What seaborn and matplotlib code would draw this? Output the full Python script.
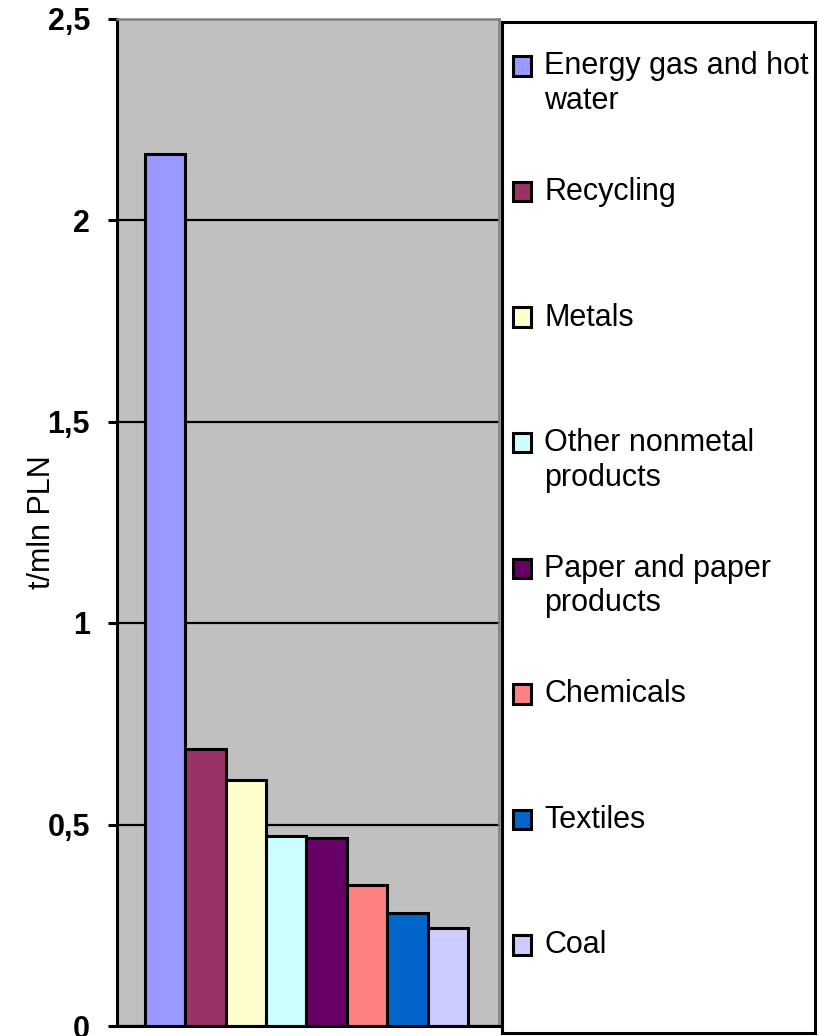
import matplotlib
matplotlib.use("Agg")
import matplotlib.pyplot as plt
import seaborn as sns
import pandas as pd
from matplotlib.patches import Rectangle
from matplotlib.legend_handler import HandlerPatch

# ---- data ----
categories = ["Energy gas and hot\nwater", "Recycling", "Metals", "Other nonmetal\nproducts",
              "Paper and paper\nproducts", "Chemicals", "Textiles", "Coal"]
values = [2.165, 0.688, 0.611, 0.471, 0.466, 0.350, 0.280, 0.243]
colors = ["#9999FF", "#993366", "#FFFFCC", "#CCFFFF", "#660066", "#FF8080", "#0066CC", "#CCCCFF"]
yticks = [0, 0.5, 1, 1.5, 2, 2.5]
ytick_labels = ["0", "0,5", "1", "1,5", "2", "2,5"]
ylabel = "t/mln PLN"

sns.set_style("white")
plt.rcParams['font.family'] = ['Liberation Sans', 'DejaVu Sans']
plt.rcParams['text.color'] = 'black'
plt.rcParams['axes.labelcolor'] = 'black'
plt.rcParams['ytick.color'] = 'black'
plt.rcParams['xtick.color'] = 'black'

fig = plt.figure(figsize=(8.19, 10.36), dpi=100)
ax = fig.add_axes([117 / 819, 10 / 1036, 382 / 819, 1007.5 / 1036])

df = pd.DataFrame({"cat": categories, "val": values})
sns.barplot(data=df, x="cat", y="val", hue="cat", palette=colors, width=1.0, dodge=False,
            saturation=1, edgecolor="black", linewidth=2.2, legend=False, ax=ax)

ax.set_facecolor("#C0C0C0")
ax.set_xlim(-1.193, 8.268)
ax.set_ylim(0, 2.5)
ax.set_yticks(yticks)
ax.set_yticklabels(ytick_labels, fontsize=22, fontweight="bold")
ax.set_xticks([])
ax.set_xlabel("")
ax.set_ylabel(ylabel, fontsize=22, labelpad=-7)
ax.tick_params(axis="y", direction="out", length=6.5, width=2.2, pad=13, left=True)
ax.set_axisbelow(True)
ax.yaxis.grid(True, color="black", linewidth=1.6)
for gl in ax.get_ygridlines()[-1:]:
    gl.set_visible(False)
for side in ["left", "bottom"]:
    ax.spines[side].set_color("black")
    ax.spines[side].set_linewidth(2.2)
for side in ["top", "right"]:
    ax.spines[side].set_color("#808080")
    ax.spines[side].set_linewidth(1.8)

# ---- legend in a framed box ----
lax = fig.add_axes([502 / 819, 3 / 1036, 313 / 819, 1011 / 1036])
lax.set_xticks([])
lax.set_yticks([])
lax.set_facecolor("white")
for s in lax.spines.values():
    s.set_color("black")
    s.set_linewidth(2.2)

fs = 22
labels = [c if "\n" in c else c + "\n" for c in categories]


def top_patch(legend, orig_handle, xdescent, ydescent, width, height, fontsize):
    return Rectangle((-xdescent, -ydescent + 0.6 * fontsize), width, height)


handles = list(ax.patches[:len(categories)])
hmap = {h: HandlerPatch(patch_func=top_patch) for h in handles}
leg = lax.legend(handles, labels, loc="upper left", bbox_to_anchor=(0.006, 0.980), frameon=False,
                 fontsize=fs, handlelength=0.6, handleheight=0.6, handletextpad=0.42,
                 labelspacing=1.995, borderaxespad=0, borderpad=0.3, handler_map=hmap)

fig.savefig("out.png", dpi=100)
